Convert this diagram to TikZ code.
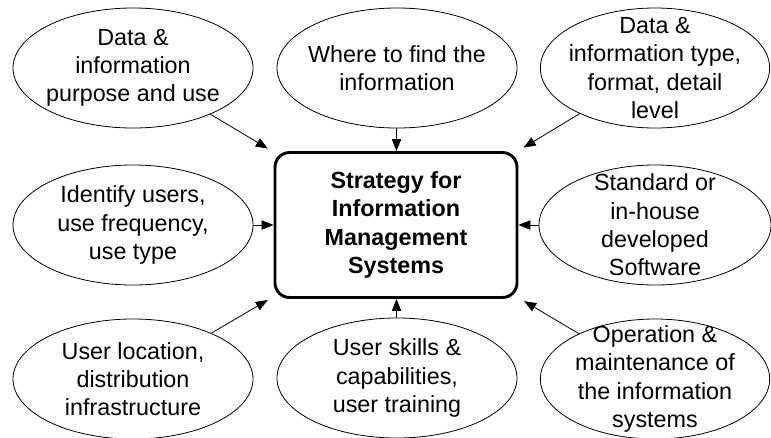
\documentclass[tikz,border=0pt]{standalone}
\usepackage{fontspec}
\setmainfont{Liberation Sans}
\usetikzlibrary{shapes.geometric,arrows.meta}

\begin{document}
\begin{tikzpicture}[
    x=0.75pt, y=-0.75pt,
    topic/.style={ellipse, draw, line width=0.6pt, minimum width=#1, minimum height=90pt, inner sep=-14pt, align=center, font=\fontsize{17.5}{21.2}\selectfont},
    topic/.default=180pt,
    core/.style={draw, line width=2.2pt, rounded corners=11pt, minimum width=181.5pt, minimum height=108.75pt, align=center, font=\fontsize{17.5}{21.2}\selectfont\bfseries},
    arrow/.style={->, line width=0.6pt, >={Triangle[length=9pt, width=7pt]}},
    corner/.style={arrow, shorten >=5pt}
]
    \useasboundingbox (0,0) rectangle (771,437);

    % Centre box
    \node[core] (strategy) at (396,225) {Strategy for\\Information\\Management\\Systems};

    % Top row
    \node[topic] (purpose) at (133,68) {Data \&\\information\\purpose and use};
    \node[topic] (where) at (397,68) {Where to find the\\information};
    \node[topic=172pt] (type) at (655,68) {Data \&\\information type,\\format, detail\\level};

    % Middle row
    \node[topic] (users) at (133,225) {Identify users,\\use frequency,\\use type};
    \node[topic=174pt] (software) at (655,225) {Standard or\\in-house\\developed\\Software};

    % Bottom row
    \node[topic] (location) at (133,379) {User location,\\distribution\\infrastructure};
    \node[topic] (skills) at (397,378) {User skills \&\\capabilities,\\user training};
    \node[topic=172pt] (operation) at (655,379) {Operation \&\\maintenance of\\the information\\systems};

    % Arrows - straight into the box
    \draw[arrow] (where) -- (strategy);
    \draw[arrow] (users) -- (strategy);
    \draw[arrow] (software) -- (strategy);
    \draw[arrow] (skills) -- (strategy);

    % Arrows - diagonal to the rounded corners
    \draw[corner] (purpose) -- (strategy);
    \draw[corner] (type) -- (strategy);
    \draw[corner] (location) -- (strategy);
    \draw[corner] (operation) -- (strategy);

\end{tikzpicture}
\end{document}
